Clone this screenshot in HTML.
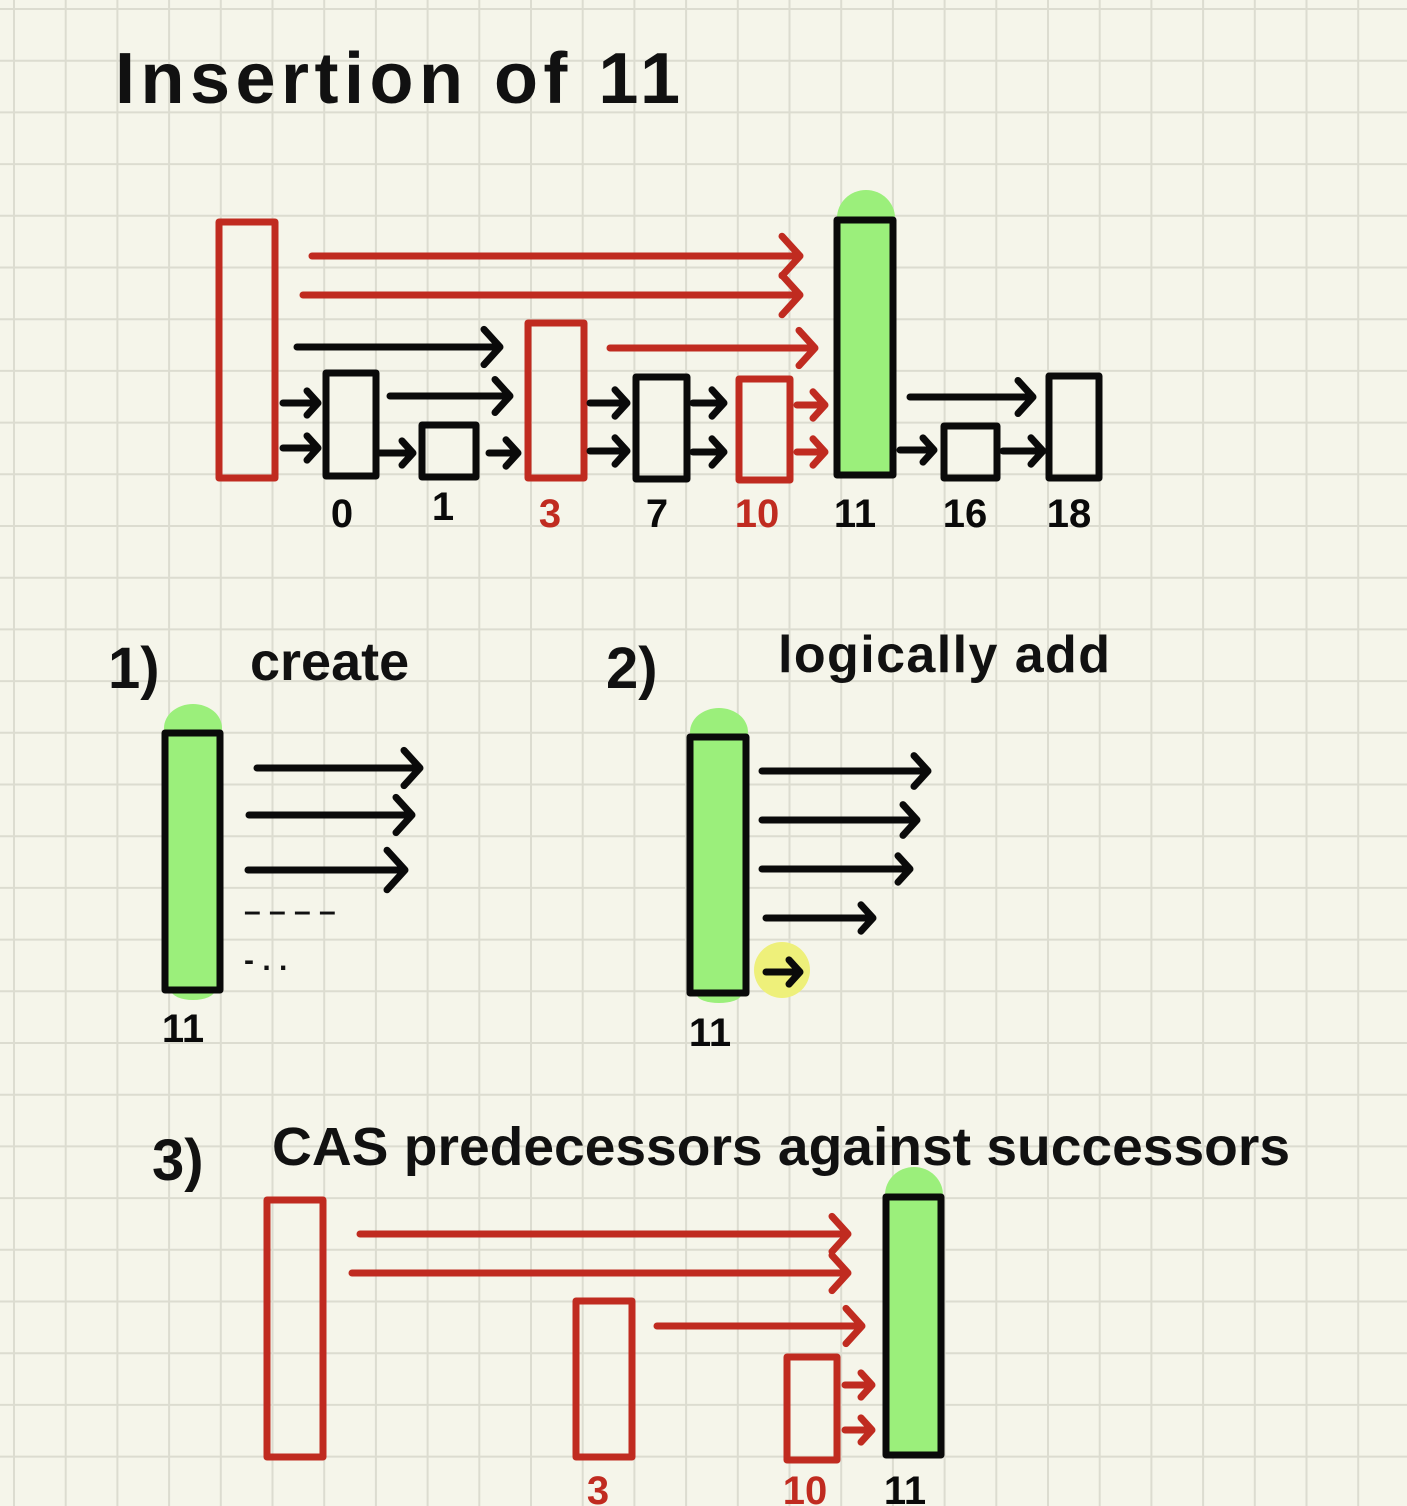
<!DOCTYPE html>
<html><head><meta charset="utf-8"><style>
html,body{margin:0;padding:0;background:#f5f5ea;}
svg{display:block;}
text{font-family:"Liberation Sans",sans-serif;font-weight:bold;}
</style></head><body>
<svg id="s" width="1407" height="1506" viewBox="0 0 1407 1506">
<g id="grid"></g>
<g id="glows"></g>
<g id="rects"></g>
<g id="arrows"></g>
<g id="labels">
<text x="115" y="103" font-size="72" fill="#111" textLength="565" lengthAdjust="spacing">Insertion  of  11</text>
<text x="108" y="688" font-size="58" fill="#111">1)</text>
<text x="250" y="680" font-size="54" fill="#111">create</text>
<text x="606" y="688" font-size="58" fill="#111">2)</text>
<text x="778" y="672" font-size="52" fill="#111" textLength="332" lengthAdjust="spacing">logically  add</text>
<text x="152" y="1180" font-size="58" fill="#111">3)</text>
<text x="272" y="1165" font-size="54" fill="#111" textLength="1018" lengthAdjust="spacingAndGlyphs">CAS  predecessors   against successors</text>
<text x="244" y="921" font-size="30" fill="#111">– – – –</text>
<text x="244" y="970" font-size="30" fill="#111">- . .</text>
</g>
<script>
var NS="http://www.w3.org/2000/svg";
function mk(t,a,p){var e=document.createElementNS(NS,t);for(var k in a)e.setAttribute(k,a[k]);document.getElementById(p).appendChild(e);return e;}
for(var x=14;x<1407;x+=51.7){var l=mk('line',{x1:x,y1:0,x2:x,y2:1506,stroke:'#dcdcd0','stroke-width':2},'grid');}
for(var y=9;y<1506;y+=51.7){var l=mk('line',{x1:0,y1:y,x2:1407,y2:y,stroke:'#dcdcd0','stroke-width':2},'grid');}
var R='#c02b20',K='#0a0a0a',G='#9bef7b';
var glows=[[866,218,29,28],[193,728,29,24],[193,990,22,10],[719,732,29,24],[719,995,22,8],[914,1195,29,28],[782,970,28,28]];
glows.forEach(function(g,i){var e=mk('ellipse',{cx:g[0],cy:g[1],rx:g[2],ry:g[3],fill:i==6?'#eef07a':G},'glows');});
var rects=[[219,222,275,478,R,'none','head-node'],[326,373,376,476,K,'none','node-0'],[422,425,476,477,K,'none','node-1'],[528,323,584,478,R,'none','node-3'],[636,377,687,479,K,'none','node-7'],[739,379,790,480,R,'none','node-10'],[837,220,893,475,K,G,'node-11'],[944,426,997,478,K,'none','node-16'],[1049,376,1099,478,K,'none','node-18'],
[165,733,220,990,K,G,'new-node-11'],[690,737,746,993,K,G,'linked-node-11'],
[267,1200,323,1457,R,'none','pred-head'],[576,1301,632,1457,R,'none','pred-3'],[787,1357,837,1460,R,'none','pred-10'],[886,1197,941,1455,K,G,'cas-node-11']];
rects.forEach(function(r){var e=mk('rect',{x:r[0],y:r[1],width:r[2]-r[0],height:r[3]-r[1],stroke:r[4],fill:r[5],'stroke-width':7,'stroke-linejoin':'round'},'rects');});
var arrows=[[312,800,256,R,18],[303,800,295,R,18],[297,500,347,K,16],[610,815,348,R,16],[283,318,403,K,11],[283,318,448,K,11],[390,510,396,K,15],[380,413,453,K,11],[489,518,453,K,12],[590,627,403,K,12],[590,627,451,K,12],[693,724,403,K,12],[693,724,452,K,12],[797,825,405,R,12],[797,825,452,R,12],[910,1033,397,K,15],[900,934,450,K,11],[1003,1043,451,K,12],
[257,420,768,K,16],[249,412,815,K,16],[248,405,870,K,18],
[762,928,771,K,14],[762,917,820,K,14],[762,910,869,K,12],[766,873,918,K,12],[766,800,972,K,11],
[360,848,1234,R,16],[352,848,1273,R,16],[657,862,1326,R,16],[845,872,1385,R,11],[845,872,1430,R,11]];
arrows.forEach(function(a){var e=mk('path',{d:'M'+a[0]+' '+a[2]+'H'+a[1]+'M'+(a[1]-a[4])+' '+(a[2]-a[4]*1.1)+'L'+a[1]+' '+a[2]+'L'+(a[1]-a[4])+' '+(a[2]+a[4]*1.1),stroke:a[3],fill:'none','stroke-width':7,'stroke-linecap':'round','stroke-linejoin':'round'},'arrows');});
var keys=[[342,527,'0',K],[443,520,'1',K],[550,527,'3',R],[657,527,'7',K],[757,527,'10',R],[855,527,'11',K],[965,527,'16',K],[1069,527,'18',K],[183,1042,'11',K],[710,1046,'11',K],[598,1504,'3',R],[805,1504,'10',R],[905,1504,'11',K]];
keys.forEach(function(k){var e=mk('text',{x:k[0],y:k[1],'font-size':40,fill:k[3],'text-anchor':'middle'},'labels');e.textContent=k[2];});
</script>
</svg>
</body></html>
